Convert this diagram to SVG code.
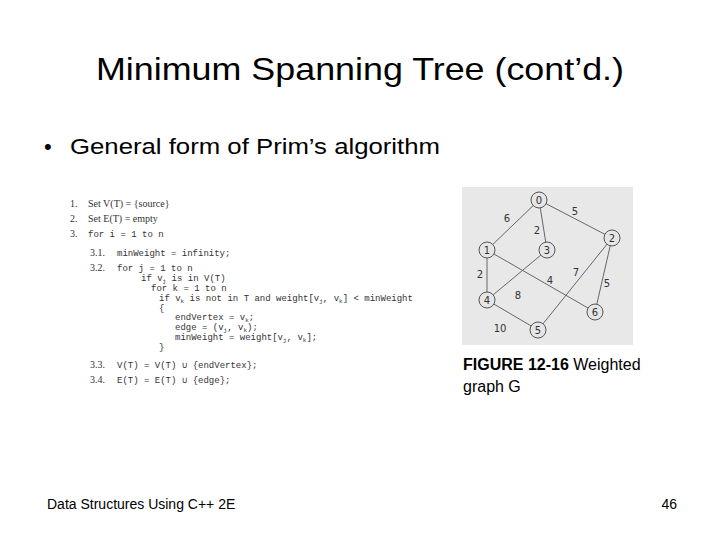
<svg xmlns="http://www.w3.org/2000/svg" width="720" height="540" viewBox="0 0 720 540">
<style>
.t{font-family:"Liberation Sans",Arial,sans-serif;fill:#000}
.s{font-family:"Liberation Serif","Times New Roman",serif;font-size:10px;fill:#333}
.m{font-family:"Liberation Mono","Courier New",monospace;font-size:9px;fill:#333}
.e{stroke:#666;stroke-width:1;fill:none}
.n circle{fill:#e6e6e6;stroke:#555;stroke-width:1}
.n text,.w{font-family:"DejaVu Sans",sans-serif;font-size:10px;fill:#333;text-anchor:middle}
</style>
<rect width="720" height="540" fill="#fff"/>
<text class="t" x="360" y="80" font-size="32" text-anchor="middle" textLength="528" lengthAdjust="spacingAndGlyphs">Minimum Spanning Tree (cont’d.)</text>
<text class="t" x="44" y="154" font-size="22">•</text>
<text class="t" x="70" y="154" font-size="22" textLength="370" lengthAdjust="spacingAndGlyphs">General form of Prim’s algorithm</text>
<g id="code">
<text class="s" x="70" y="207">1.</text><text class="s" x="88" y="207">Set V(T) = {source}</text>
<text class="s" x="70" y="222">2.</text><text class="s" x="88" y="222">Set E(T) = empty</text>
<text class="s" x="70" y="237">3.</text><text class="m" x="88" y="237">for i = 1 to n</text>
<text class="s" x="90" y="256">3.1.</text><text class="m" x="117" y="256">minWeight = infinity;</text>
<text class="s" x="90" y="271">3.2.</text><text class="m" x="117" y="271">for j = 1 to n</text>
<text class="m" x="141" y="281">if v<tspan font-size="6" dy="2">j</tspan><tspan dy="-2"> is in V(T)</tspan></text>
<text class="m" x="151" y="291">for k = 1 to n</text>
<text class="m" x="159" y="301">if v<tspan font-size="6" dy="2">k</tspan><tspan dy="-2"> is not in T and weight[v</tspan><tspan font-size="6" dy="2">j</tspan><tspan dy="-2">, v</tspan><tspan font-size="6" dy="2">k</tspan><tspan dy="-2">] &lt; minWeight</tspan></text>
<text class="m" x="159" y="311">{</text>
<text class="m" x="175" y="320">endVertex = v<tspan font-size="6" dy="2">k</tspan><tspan dy="-2">;</tspan></text>
<text class="m" x="175" y="330">edge = (v<tspan font-size="6" dy="2">j</tspan><tspan dy="-2">, v</tspan><tspan font-size="6" dy="2">k</tspan><tspan dy="-2">);</tspan></text>
<text class="m" x="175" y="340">minWeight = weight[v<tspan font-size="6" dy="2">j</tspan><tspan dy="-2">, v</tspan><tspan font-size="6" dy="2">k</tspan><tspan dy="-2">];</tspan></text>
<text class="m" x="159" y="350">}</text>
<text class="s" x="90" y="368">3.3.</text><text class="m" x="117" y="368">V(T) = V(T) ∪ {endVertex};</text>
<text class="s" x="90" y="383">3.4.</text><text class="m" x="117" y="383">E(T) = E(T) ∪ {edge};</text>
</g>
<rect x="462" y="187" width="171" height="158" fill="#e8e8e8"/>
<g id="edges">
<line class="e" x1="539" y1="200" x2="487" y2="250"/>
<line class="e" x1="539" y1="200" x2="547" y2="250"/>
<line class="e" x1="539" y1="200" x2="612" y2="238"/>
<line class="e" x1="487" y1="250" x2="487" y2="300"/>
<line class="e" x1="487" y1="250" x2="595" y2="312"/>
<line class="e" x1="547" y1="250" x2="487" y2="300"/>
<line class="e" x1="612" y1="238" x2="538" y2="330"/>
<line class="e" x1="612" y1="238" x2="595" y2="312"/>
<line class="e" x1="487" y1="300" x2="538" y2="330"/>
<text class="w" x="507" y="222">6</text>
<text class="w" x="537" y="234">2</text>
<text class="w" x="575" y="215">5</text>
<text class="w" x="480" y="278">2</text>
<text class="w" x="550" y="284">4</text>
<text class="w" x="576" y="276">7</text>
<text class="w" x="607" y="287">5</text>
<text class="w" x="518" y="299">8</text>
<text class="w" x="500" y="332">10</text>
</g>
<g id="n0" class="n"><circle cx="539" cy="200" r="8"/><text x="539" y="204">0</text></g>
<g id="n1" class="n"><circle cx="487" cy="250" r="8"/><text x="487" y="254">1</text></g>
<g id="n2" class="n"><circle cx="612" cy="238" r="8"/><text x="612" y="242">2</text></g>
<g id="n3" class="n"><circle cx="547" cy="250" r="8"/><text x="547" y="254">3</text></g>
<g id="n4" class="n"><circle cx="487" cy="300" r="8"/><text x="487" y="304">4</text></g>
<g id="n5" class="n"><circle cx="538" cy="330" r="8"/><text x="538" y="334">5</text></g>
<g id="n6" class="n"><circle cx="595" cy="312" r="8"/><text x="595" y="316">6</text></g>
<text class="t" x="463" y="370" font-size="16"><tspan font-weight="bold">FIGURE 12-16</tspan> Weighted</text>
<text class="t" x="463" y="392" font-size="16">graph G</text>
<text class="t" x="47" y="509" font-size="14">Data Structures Using C++ 2E</text>
<text class="t" x="677" y="509" font-size="14" text-anchor="end">46</text>
</svg>
